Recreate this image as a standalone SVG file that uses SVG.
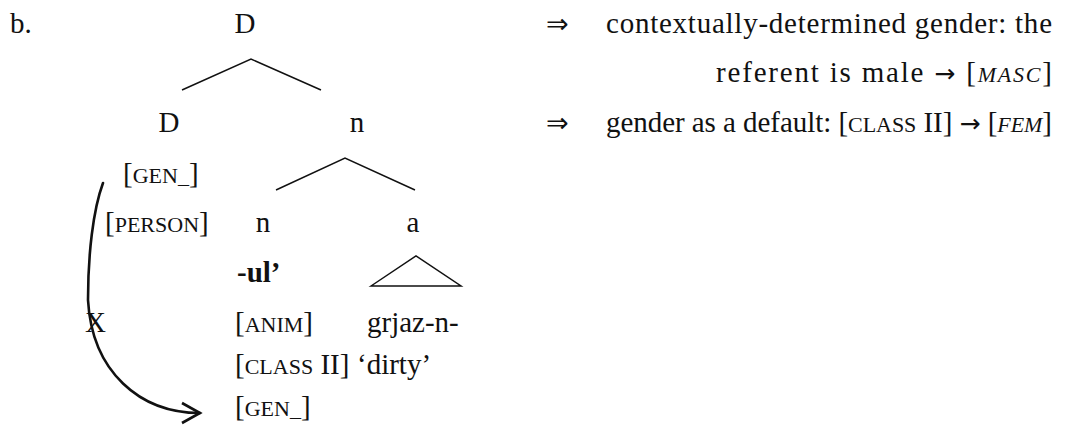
<svg xmlns="http://www.w3.org/2000/svg" width="1070" height="430" viewBox="0 0 1070 430">
<style>
  .t { font-family: "Liberation Serif", "DejaVu Serif", serif; font-size: 29px; fill: #111; }
  .m { text-anchor: middle; }
  .sc { font-size: 22px; }
  .it { font-style: italic; }
  .b { font-weight: bold; }
  .ar { font-family: "DejaVu Sans", sans-serif; font-size: 25px; }
  .dar { font-family: "DejaVu Sans", sans-serif; font-size: 27px; }
  .ln { stroke: #111; stroke-width: 1.5; fill: none; }
  .cv { stroke: #111; stroke-width: 2.6; fill: none; stroke-linecap: round; }
</style>
<defs>
  <marker id="open" markerUnits="userSpaceOnUse" viewBox="-22 -14 26 28" markerWidth="26" markerHeight="28" refX="0" refY="0" orient="auto">
    <path d="M-18,-10 L0,0 L-18,10" fill="none" stroke="#111" stroke-width="2.6" stroke-linejoin="miter"/>
  </marker>
</defs>
<rect width="1070" height="430" fill="#fff"/>
<text class="t" x="10" y="33">b.</text>

<g id="node-D-root"><text class="t m" x="245" y="33">D</text></g>
<g id="node-D"><text class="t m" x="169" y="132">D</text></g>
<g id="node-n-top"><text class="t m" x="357" y="132">n</text></g>
<g id="node-D-features">
  <text class="t" x="123" y="183">[<tspan class="sc">GEN_</tspan>]</text>
  <text class="t" x="105" y="232">[<tspan class="sc">PERSON</tspan>]</text>
</g>
<g id="node-n"><text class="t m" x="263" y="232">n</text></g>
<g id="node-a"><text class="t m" x="413" y="232">a</text></g>
<g id="node-ul">
  <text class="t b" x="237" y="282">-ul’</text>
  <text class="t" x="235" y="332">[<tspan class="sc">ANIM</tspan>]</text>
  <text class="t" x="235" y="374">[<tspan class="sc">CLASS</tspan> II]</text>
  <text class="t" x="235" y="416">[<tspan class="sc">GEN_</tspan>]</text>
</g>
<g id="node-grjaz">
  <polygon class="ln" points="371,286 416,256 461,286"/>
  <text class="t" x="367" y="332">grjaz-n-</text>
  <text class="t" x="357" y="374">‘dirty’</text>
</g>
<g id="node-X"><text class="t" x="85" y="332">X</text></g>

<g id="connectors">
  <polyline class="ln" points="182,90 251,59 321,90"/>
  <polyline class="ln" points="276,190 345,158 415,190"/>
  <path class="cv" d="M103,183 C93,210 88,255 88,300 C92,372 140,413 200,413" marker-end="url(#open)"/>
</g>

<g id="notes">
  <text class="t" x="546" y="33"><tspan class="dar">⇒</tspan></text>
  <text class="t" x="606" y="33" textLength="446">contextually-determined gender: the</text>
  <text class="t" x="716" y="82" textLength="336">referent is male <tspan class="ar">→</tspan> [<tspan class="sc it">MASC</tspan>]</text>
  <text class="t" x="546" y="132"><tspan class="dar">⇒</tspan></text>
  <text class="t" x="606" y="132" textLength="446">gender as a default: [<tspan class="sc">CLASS</tspan> II] <tspan class="ar">→</tspan> [<tspan class="sc it">FEM</tspan>]</text>
</g>
</svg>
